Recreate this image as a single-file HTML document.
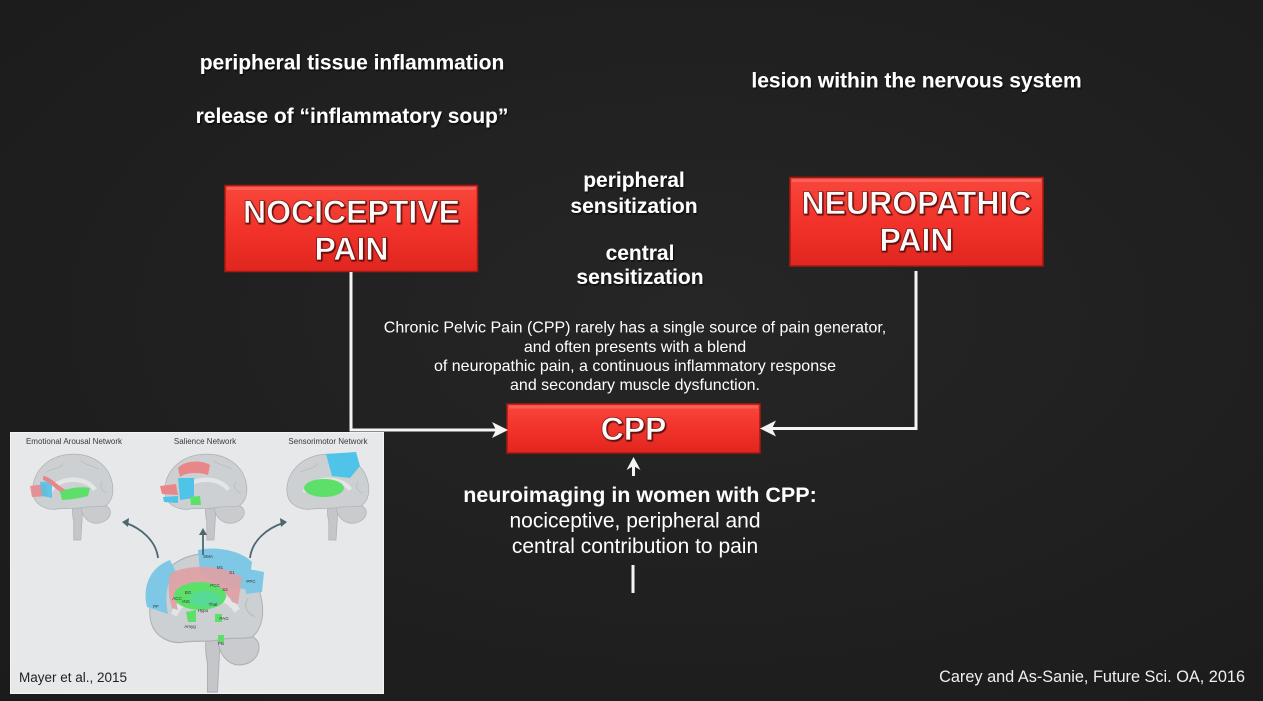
<!DOCTYPE html>
<html><head><meta charset="utf-8"><style>
html,body{margin:0;padding:0;}
body{width:1263px;height:701px;overflow:hidden;background:radial-gradient(ellipse at 55% 45%,#262626 0%,#1f1f1f 60%,#1b1b1b 100%);font-family:"Liberation Sans",Arial,sans-serif;}
svg{position:absolute;left:0;top:0;}
</style></head><body>
<svg width="1263" height="701" viewBox="0 0 1263 701" xmlns="http://www.w3.org/2000/svg">
<defs>
<linearGradient id="red" x1="0" y1="0" x2="0" y2="1">
<stop offset="0" stop-color="#f8473c"/><stop offset="0.5" stop-color="#f2332b"/><stop offset="1" stop-color="#e0261f"/>
</linearGradient>
<filter id="ts" x="-10%" y="-20%" width="120%" height="140%">
<feDropShadow dx="1" dy="1.5" stdDeviation="0.8" flood-color="#000" flood-opacity="0.7"/>
</filter>
<filter id="ts2" x="-10%" y="-20%" width="120%" height="140%">
<feDropShadow dx="0.8" dy="1" stdDeviation="0.6" flood-color="#000" flood-opacity="0.8"/>
</filter>
</defs>

<!-- top labels -->
<g fill="#fff" font-weight="bold" font-size="21" text-anchor="middle" filter="url(#ts)">
<text x="352" y="69.5">peripheral tissue inflammation</text>
<text x="352" y="123">release of “inflammatory soup”</text>
<text x="916.5" y="87.5">lesion within the nervous system</text>
<text x="634" y="187">peripheral</text>
<text x="634" y="213">sensitization</text>
<text x="640" y="260">central</text>
<text x="640" y="284">sensitization</text>
</g>

<!-- boxes -->
<rect x="225" y="185.5" width="252.5" height="86" fill="url(#red)" stroke="#a81812" stroke-width="1.5"/>
<rect x="227" y="187" width="248.5" height="3" fill="#ff7a70" opacity="0.5"/>
<rect x="790" y="177.5" width="253" height="88.5" fill="url(#red)" stroke="#a81812" stroke-width="1.5"/>
<rect x="792" y="179" width="249" height="3" fill="#ff7a70" opacity="0.5"/>
<rect x="507" y="404" width="253" height="49" fill="url(#red)" stroke="#a81812" stroke-width="1.5"/>
<rect x="509" y="405.5" width="249" height="3" fill="#ff7a70" opacity="0.5"/>

<g fill="#fbfbfb" font-weight="bold" font-size="32" text-anchor="middle" filter="url(#ts2)" stroke="#7a1410" stroke-width="0.7">
<text x="351.5" y="223">NOCICEPTIVE</text>
<text x="351.5" y="260">PAIN</text>
<text x="916.5" y="214">NEUROPATHIC</text>
<text x="916.5" y="251">PAIN</text>
<text x="633.5" y="440">CPP</text>
</g>

<!-- paragraph -->
<g fill="#fff" font-size="16" text-anchor="middle">
<text x="635" y="332.5">Chronic Pelvic Pain (CPP) rarely has a single source of pain generator,</text>
<text x="635" y="352">and often presents with a blend</text>
<text x="635" y="371">of neuropathic pain, a continuous inflammatory response</text>
<text x="635" y="390">and secondary muscle dysfunction.</text>
</g>

<!-- connectors -->
<g stroke="#f4f4f4" stroke-width="3" fill="none">
<polyline points="351,272 351,430 496,430"/>
<polyline points="916,271 916,428.5 772,428.5"/>
<line x1="633.5" y1="476" x2="633.5" y2="465"/>
<line x1="633" y1="565" x2="633" y2="593"/>
</g>
<g fill="#f4f4f4">
<polygon points="508,430 492,422 496,430 492,438"/>
<polygon points="760,428.5 776,420.5 772,428.5 776,436.5"/>
<polygon points="633.5,457 626.5,470 633.5,466 640.5,470"/>
</g>

<!-- bottom text -->
<g fill="#fff" text-anchor="middle">
<text x="640" y="502" font-size="21.5" font-weight="bold">neuroimaging in women with CPP:</text>
<text x="635" y="527.5" font-size="21">nociceptive, peripheral and</text>
<text x="635" y="553" font-size="21">central contribution to pain</text>
</g>
<text x="1245" y="682" fill="#f0f0f0" font-size="16.3" text-anchor="end">Carey and As-Sanie, Future Sci. OA, 2016</text>

<!-- brain panel -->
<g transform="translate(10,432)">
<rect x="0" y="0" width="374" height="262" fill="#e6e8ea"/>
<rect x="0.5" y="0.5" width="373" height="261" fill="none" stroke="#f4f4f4" stroke-width="1"/>
<g fill="#3a3a3a" font-size="8" text-anchor="middle">
<text x="64" y="12">Emotional Arousal Network</text>
<text x="195" y="12">Salience Network</text>
<text x="318" y="12">Sensorimotor Network</text>
</g>
<defs>
<g id="brain">
<path d="M52,60 C56,60 62,62 62,68 L60,100 L52,100 L52,80 C50,72 50,64 52,60 Z" fill="#c4c6c9" stroke="#aeb0b3" stroke-width="0.8"/>
<path d="M60,60 C70,56 88,58 93,66 C96,75 86,83 74,81 C66,79 60,72 60,60 Z" fill="#c9cbce" stroke="#aeb0b3" stroke-width="0.8"/>
<path d="M6,50 C2,30 18,8 45,5 C70,2 92,15 96,38 C98,50 94,58 88,62 C80,64 70,62 62,64 C50,66 40,64 30,66 C18,66 8,60 6,50 Z" fill="#cdd0d3" stroke="#aeb0b3" stroke-width="0.8"/>
<path d="M25,47 C32,30 65,28 76,44" stroke="#e4e5e7" stroke-width="5" fill="none"/>
<path d="M20,25 C28,20 35,22 40,15 M60,12 C66,18 74,16 80,22 M85,35 C80,40 84,46 90,48" stroke="#b8babd" stroke-width="0.8" fill="none"/>
</g>
</defs>
<use href="#brain" transform="translate(18,18) scale(0.88,0.9)"/>
<use href="#brain" transform="translate(150,18) scale(0.9,0.9)"/>
<use href="#brain" transform="translate(272,18) scale(0.9,0.9)"/>
<use href="#brain" transform="translate(133,115) scale(1.24,1.45)"/>

<!-- brain 1 regions -->
<path d="M20,54 L36,52 L38,64 L22,65 Z" fill="#e8868a" opacity="0.85"/>
<path d="M30,50 L42,49 L42,66 L32,64 Z" fill="#4fc3e8" opacity="0.85"/>
<path d="M33,44 C40,44 48,54 56,58 L54,62 C46,58 40,50 33,48 Z" fill="#e8868a"/>
<path d="M50,60 C58,56 70,54 80,56 L78,64 C70,66 60,68 52,68 Z" fill="#5de06a"/>
<!-- brain 2 regions -->
<path d="M168,36 C175,28 192,28 200,33 L198,43 C190,40 176,40 170,45 Z" fill="#e8868a"/>
<path d="M150,54 L166,52 L168,63 L152,62 Z" fill="#e8868a"/>
<path d="M168,46 L184,46 L184,66 L170,68 Z" fill="#4fc3e8"/>
<path d="M153,65 L168,64 L168,71 L154,70 Z" fill="#4fc3e8"/>
<path d="M180,65 L190,64 L191,73 L181,73 Z" fill="#5de06a"/>
<!-- brain 3 regions -->
<path d="M316,22 L346,20 L350,34 L340,46 L322,44 Z" fill="#4fc3e8"/>
<ellipse cx="314" cy="56" rx="20" ry="9" fill="#5de06a"/>
<!-- big brain regions -->
<path d="M137,175 C132,155 140,135 160,128 L166,140 C156,150 155,165 158,182 Z" fill="#7ec8e6"/>
<path d="M188,118 C205,114 230,118 242,130 L238,158 L205,150 L190,140 Z" fill="#7ec8e6"/>
<path d="M234,136 L254,140 L252,160 L236,162 Z" fill="#7ec8e6"/>
<path d="M160,142 C175,132 215,132 232,146 L228,172 L222,170 C215,152 180,148 170,156 C166,164 166,172 168,178 L162,176 C158,164 158,152 160,142 Z" fill="#e0a0a4" opacity="0.9"/>
<ellipse cx="190" cy="164" rx="26" ry="14" fill="#5de06a"/>
<ellipse cx="195" cy="167" rx="16" ry="8" fill="#53d6b0" opacity="0.6"/>
<path d="M176,180 L186,178 L186,190 L178,190 Z" fill="#5de06a"/>
<path d="M205,182 L212,182 L212,190 L205,190 Z" fill="#5de06a"/>
<path d="M208,203 L214,203 L214,210 L208,210 Z" fill="#5de06a"/>
<g fill="#333" font-size="4.5" text-anchor="middle">
<text x="198" y="126">SMA</text><text x="210" y="137">M1</text><text x="222" y="142">S1</text>
<text x="241" y="151">PPC</text><text x="178" y="162">BG</text><text x="167" y="168">ACC</text>
<text x="176" y="171">INS</text><text x="205" y="155">PCC</text><text x="215" y="159">S2</text>
<text x="146" y="176">PF</text><text x="203" y="174">Thal</text><text x="193" y="180">Hypo</text>
<text x="180" y="196">Amyg</text><text x="214" y="188">PAG</text><text x="211" y="213">PB</text>
</g>
<!-- arrows -->
<g stroke="#4d6670" stroke-width="1.8" fill="none">
<path d="M148,126 C146,108 130,96 116,91"/>
<line x1="193" y1="123" x2="193" y2="100"/>
<path d="M240,126 C242,108 258,96 273,91"/>
</g>
<g fill="#4d6670">
<polygon points="112,90 119,86 118,95"/>
<polygon points="193,96 189,103 197,103"/>
<polygon points="277,90 270,86 271,95"/>
</g>
<text x="9" y="250" fill="#222" font-size="13.5">Mayer et al., 2015</text>
</g>
</svg>
</body></html>
